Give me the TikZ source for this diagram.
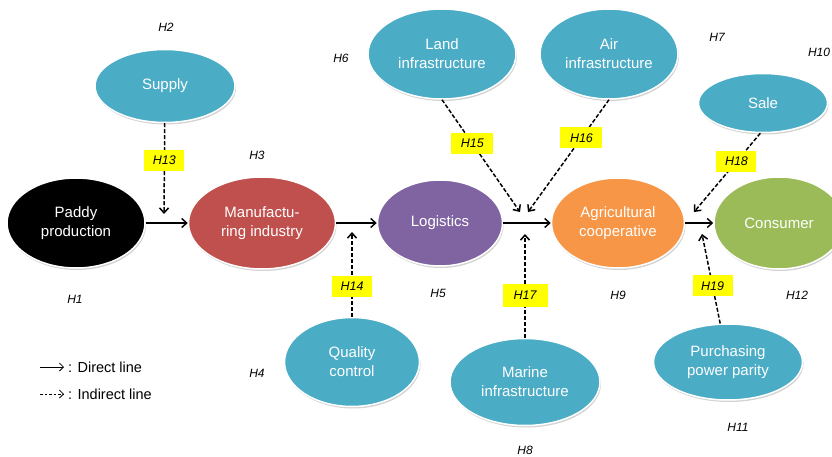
\documentclass[tikz,border=0pt]{standalone}
\usepackage{fontspec}
\setmainfont{Liberation Sans}
\usetikzlibrary{shapes.geometric}
\usetikzlibrary{shadows,arrows.meta}

\definecolor{cblue}{RGB}{75,172,198}
\definecolor{cred}{RGB}{192,80,77}
\definecolor{cpurple}{RGB}{128,100,162}
\definecolor{corange}{RGB}{247,150,70}
\definecolor{cgreen}{RGB}{155,187,89}
\definecolor{hyellow}{RGB}{255,255,0}

\begin{document}
\begin{tikzpicture}[x=1pt, y=-1pt,
  concept/.style={ellipse, draw=white, line width=1.5pt, text=white, align=center, inner sep=0pt,
    font=\fontsize{15}{19}\selectfont,
    drop shadow={shadow xshift=1pt, shadow yshift=-2pt, opacity=0.35}},
  hyp/.style={font=\fontsize{12}{14}\selectfont\itshape},
  hbox/.style={fill=hyellow, inner sep=0pt, minimum width=40pt, minimum height=21pt,
    font=\fontsize{12.5}{14}\selectfont\itshape},
  direct/.style={line width=1.4pt, -{Straight Barb[length=5pt,width=9pt]}},
  indirect/.style={line width=1.5pt, dash pattern=on 4pt off 2pt, -{Straight Barb[length=5pt,width=9pt]}}]
%%% frame %%%
\useasboundingbox (0,0) rectangle (832,457);

%% main chain
\node[concept, fill=black, minimum width=138pt, minimum height=90pt] (paddy) at (76,223) {Paddy\\production};
\node[concept, fill=cred, minimum width=147pt, minimum height=92pt] (manuf) at (262,223) {Manufactu-\\ring industry};
\node[concept, fill=cpurple, minimum width=125pt, minimum height=86pt] (logistics) at (440,223) {Logistics};
\node[concept, fill=corange, minimum width=133pt, minimum height=90pt] (agri) at (618,223) {Agricultural\\cooperative};
\node[concept, fill=cgreen, minimum width=130pt, minimum height=92pt] (consumer) at (779,223) {Consumer};

%% outer factors
\node[concept, fill=cblue, minimum width=140pt, minimum height=73pt] (supply) at (165,86) {Supply};
\node[concept, fill=cblue, minimum width=148pt, minimum height=90pt] (land) at (442,54) {Land\\infrastructure};
\node[concept, fill=cblue, minimum width=138pt, minimum height=90pt] (air) at (609,54) {Air\\infrastructure};
\node[concept, fill=cblue, minimum width=129pt, minimum height=59pt] (sale) at (763,103) {Sale};
\node[concept, fill=cblue, minimum width=135pt, minimum height=89pt] (quality) at (352,362) {Quality\\control};
\node[concept, fill=cblue, minimum width=150pt, minimum height=87pt] (marine) at (525,382) {Marine\\infrastructure};
\node[concept, fill=cblue, minimum width=149pt, minimum height=76pt] (ppp) at (728,362) {Purchasing\\power parity};

%% direct lines
\draw[direct] (paddy) -- (manuf);
\draw[direct] (manuf) -- (logistics);
\draw[direct] (logistics) -- (agri);
\draw[direct] (agri) -- (consumer);

%% indirect lines
\coordinate (j1) at (164,214);
\coordinate (j2) at (352,232);
\coordinate (j3) at (520,212);
\coordinate (j4) at (528,212);
\coordinate (j5) at (525,234);
\coordinate (j6) at (694,212);
\coordinate (j7) at (702,234);

\draw[indirect] (supply) -- node[hbox, pos=0.41] (h13) {H13} (j1);
\draw[indirect] (quality) -- node[hbox, pos=0.36] (h14) {H14} (j2);
\draw[indirect] (land.south) -- node[hbox, pos=0.39, minimum width=42pt] (h15) {H15} (j3);
\draw[indirect] (air.south) -- node[hbox, pos=0.34, minimum width=42pt] (h16) {H16} (j4);
\draw[indirect] (marine) -- node[hbox, pos=0.41, minimum width=45pt, minimum height=23pt] (h17) {H17} (j5);
\draw[indirect] (sale.265) -- node[hbox, pos=0.36] (h18) {H18} (j6);
\draw[indirect] (ppp) -- node[hbox, pos=0.42] (h19) {H19} (j7);

%% hypotheses
\node[hyp] (h1) at (75,299) {H1};
\node[hyp] (h2) at (166,27) {H2};
\node[hyp] (h3) at (257,155) {H3};
\node[hyp] (h4) at (257,373) {H4};
\node[hyp] (h5) at (438,293) {H5};
\node[hyp] (h6) at (341,58) {H6};
\node[hyp] (h7) at (717,37) {H7};
\node[hyp] (h8) at (525,450) {H8};
\node[hyp] (h9) at (618,295) {H9};
\node[hyp] (h10) at (819,52) {H10};
\node[hyp] (h11) at (738,427) {H11};
\node[hyp] (h12) at (797,295) {H12};

%%% legend %%%
\coordinate (la) at (40,367);
\coordinate (lb) at (64,367);
\coordinate (lc) at (40,394);
\coordinate (ld) at (64,394);
\draw[line width=0.8pt, -{Straight Barb[length=4pt,width=8pt]}] (la) -- (lb);
\draw[line width=0.8pt, dash pattern=on 2.5pt off 2pt, -{Straight Barb[length=4pt,width=8pt]}] (lc) -- (ld);
\node[anchor=west, inner sep=0pt, font=\fontsize{14.5}{17}\selectfont] (ldirect) at (68,367) {: Direct line};
\node[anchor=west, inner sep=0pt, font=\fontsize{14.5}{17}\selectfont] (lindirect) at (68,394) {: Indirect line};

\end{tikzpicture}
\end{document}
